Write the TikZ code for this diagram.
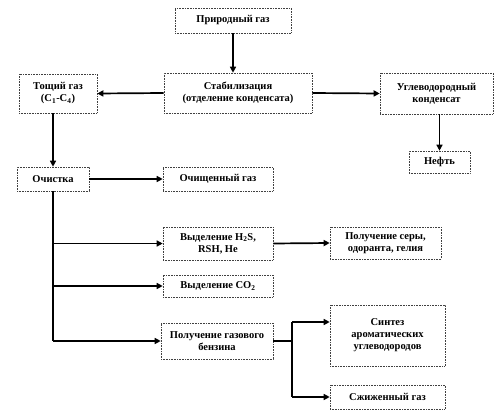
\documentclass[tikz,border=0pt]{standalone}
\usepackage{fontspec}
\setmainfont{Liberation Serif}
\usetikzlibrary{arrows.meta}

\tikzset{
  procbox/.style={draw=black!75, densely dotted, line width=0.6pt, fill=white,
    align=center, inner sep=1pt, font=\bfseries\fontsize{10.5}{12}\selectfont},
  flowarr/.style={-{Triangle[length=6pt,width=6pt]}, line width=1.7pt, black},
  flowline/.style={line width=1.7pt, black}
}

\begin{document}
\begin{tikzpicture}[x=1pt, y=-1pt]

% canvas (499 x 415)
\useasboundingbox (0,0) rectangle (499,415);

% ----------------------------------------------------------------
% Upper part: stabilisation
% ----------------------------------------------------------------
\node[procbox, minimum width=116pt, minimum height=25pt] (natgas) at (233, 20.5) {Природный газ};
\node[procbox, minimum width=148pt, minimum height=40pt] (stab) at (238, 93)
  {Стабилизация\\(отделение конденсата)};
\node[procbox, minimum width=78pt, minimum height=39pt] (lean) at (58, 93.5)
  {Тощий газ\\(C\textsubscript{1}-C\textsubscript{4})};
\node[procbox, minimum width=113pt, minimum height=41pt] (cond) at (436.5, 93.5)
  {Углеводородный\\конденсат};
\node[procbox, minimum width=61pt, minimum height=22pt] (oil) at (439.5, 162) {Нефть};

\draw[flowarr] (natgas.south) -- (natgas.south |- stab.north);
\draw[flowarr] (stab.west) -- (lean.east);
\draw[flowarr] (stab.east) -- (cond.west);
\draw[flowarr] (cond.south -| oil.north) -- (oil.north);

% ----------------------------------------------------------------
% Gas cleaning
% ----------------------------------------------------------------
\node[procbox, minimum width=72pt, minimum height=24pt] (clean) at (53, 179) {Очистка};
\node[procbox, minimum width=110pt, minimum height=24pt] (cleangas) at (218, 179) {Очищенный газ};
\node[procbox, minimum width=110pt, minimum height=33pt] (hts) at (218, 243.5)
  {Выделение H\textsubscript{2}S,\\RSH, He};
\node[procbox, minimum width=111pt, minimum height=32pt] (sulf) at (385.5, 243)
  {Получение серы,\\одоранта, гелия};
\node[procbox, minimum width=110pt, minimum height=22pt] (cotwo) at (218, 286)
  {Выделение CO\textsubscript{2}};
\node[procbox, minimum width=112pt, minimum height=36pt] (petrol) at (217, 341)
  {Получение газового\\бензина};

\draw[flowarr] (lean.south -| clean.north) -- (clean.north);
\draw[flowarr] (clean.east) -- (cleangas.west);
\draw[flowline] (clean.south) -- (clean.south |- petrol.west);
\foreach \dst in {hts, cotwo, petrol} {
  \draw[flowarr] (clean.south |- \dst.west) -- (\dst.west);
}
\draw[flowarr] (hts.east) -- (sulf.west);

% ----------------------------------------------------------------
% Gas petrol branch
% ----------------------------------------------------------------
\node[procbox, minimum width=115pt, minimum height=61pt] (arom) at (387.5, 335.5)
  {Синтез\\ароматических\\углеводородов};
\node[procbox, minimum width=115pt, minimum height=24pt] (lpg) at (387.5, 397) {Сжиженный газ};

\coordinate (forktop) at (292, 322);
\coordinate (forkbot) at (292, 397);
\draw[flowline] (petrol.east) -- (petrol.east -| forktop);
\draw[flowline] (forktop) -- (forkbot);
\draw[flowarr] (forktop) -- (forktop -| arom.west);
\draw[flowarr] (forkbot) -- (lpg.west);

\end{tikzpicture}
\end{document}
